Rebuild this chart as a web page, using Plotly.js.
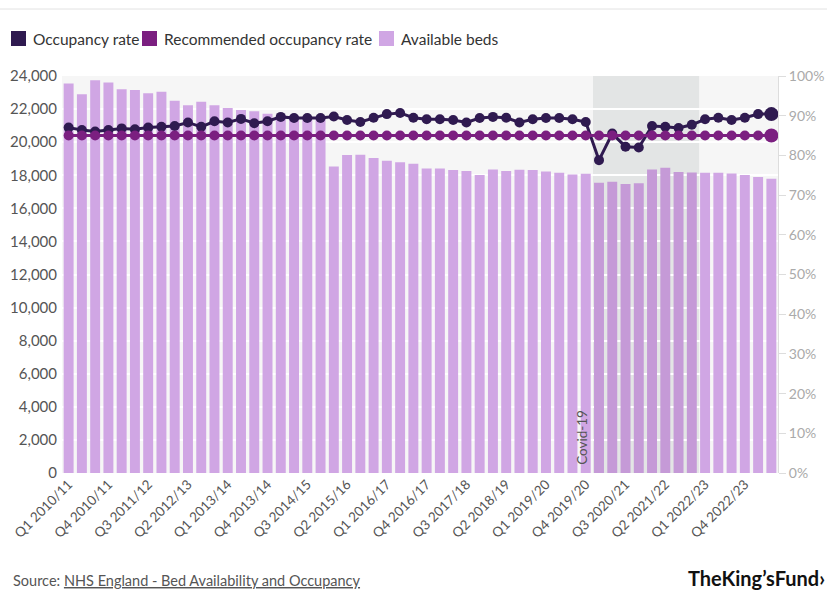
<!DOCTYPE html>
<html>
<head>
<meta charset="utf-8">
<script src="https://cdn.plot.ly/plotly-3.0.1.min.js"></script>
<style>
  html, body { margin: 0; padding: 0; background: #ffffff; }
  #chart { width: 827px; height: 590px; }
</style>
</head>
<body>
<div id="chart"></div>
<script>
// ---- Data ----
const quarters = [
  "Q1 2010/11","Q2 2010/11","Q3 2010/11","Q4 2010/11",
  "Q1 2011/12","Q2 2011/12","Q3 2011/12","Q4 2011/12",
  "Q1 2012/13","Q2 2012/13","Q3 2012/13","Q4 2012/13",
  "Q1 2013/14","Q2 2013/14","Q3 2013/14","Q4 2013/14",
  "Q1 2014/15","Q2 2014/15","Q3 2014/15","Q4 2014/15",
  "Q1 2015/16","Q2 2015/16","Q3 2015/16","Q4 2015/16",
  "Q1 2016/17","Q2 2016/17","Q3 2016/17","Q4 2016/17",
  "Q1 2017/18","Q2 2017/18","Q3 2017/18","Q4 2017/18",
  "Q1 2018/19","Q2 2018/19","Q3 2018/19","Q4 2018/19",
  "Q1 2019/20","Q2 2019/20","Q3 2019/20","Q4 2019/20",
  "Q1 2020/21","Q2 2020/21","Q3 2020/21","Q4 2020/21",
  "Q1 2021/22","Q2 2021/22","Q3 2021/22","Q4 2021/22",
  "Q1 2022/23","Q2 2022/23","Q3 2022/23","Q4 2022/23",
  "Q1 2023/24","Q2 2023/24"
];

const availableBeds = [
  23550, 22900, 23750, 23600, 23200, 23160, 22960, 23050,
  22500, 22230, 22450, 22230, 22070, 21950, 21870, 21720,
  21650, 21600, 21550, 21500, 18530, 19220, 19240, 19040,
  18870, 18780, 18700, 18410, 18410, 18310, 18250, 18010,
  18350, 18250, 18330, 18310, 18230, 18150, 18050, 18090,
  17550, 17610, 17470, 17510, 18350, 18450, 18190, 18170,
  18150, 18150, 18110, 18010, 17890, 17790
];

const occupancyRate = [
  87.0, 86.4, 86.0, 86.4, 86.8, 86.6, 87.0, 87.2,
  87.4, 88.3, 87.2, 88.6, 88.3, 89.2, 88.1, 88.6,
  89.7, 89.4, 89.4, 89.4, 89.8, 88.9, 88.4, 89.5,
  90.4, 90.7, 89.5, 89.1, 89.1, 88.9, 88.3, 89.4,
  89.7, 89.5, 88.3, 89.1, 89.4, 89.4, 89.1, 88.4,
  78.8, 85.5, 82.2, 82.0, 87.4, 87.2, 86.9, 87.7,
  89.1, 89.5, 88.9, 89.5, 90.4, 90.4
];

const recommendedRate = quarters.map(() => 85);

const tickLabels = [
  "Q1 2010/11","Q4 2010/11","Q3 2011/12","Q2 2012/13","Q1 2013/14",
  "Q4 2013/14","Q3 2014/15","Q2 2015/16","Q1 2016/17","Q4 2016/17",
  "Q3 2017/18","Q2 2018/19","Q1 2019/20","Q4 2019/20","Q3 2020/21",
  "Q2 2021/22","Q1 2022/23","Q4 2022/23"
];

const seriesNames = ["Occupancy rate", "Recommended occupancy rate", "Available beds"];

const covidStart = "Q1 2020/21";
const covidEnd = "Q4 2021/22";

// ---- Styles / geometry ----
const FONT = 'Lato, "Source Sans Pro", "Noto Sans", sans-serif';
const cOcc = '#2f1a50';
const cRec = '#7b1f80';
const cBeds = '#d0a6e4';
const cBedsCovid = '#c59ad7';
const W = 827, H = 590, ML = 62, MR = 49, MT = 76, MB = 117;
const PW = W - ML - MR, PH = H - MT - MB;
const px2x = px => (px - ML) / PW;
const px2y = py => (H - MB - py) / PH;

const iStart = quarters.indexOf(covidStart);
const iEnd = quarters.indexOf(covidEnd);
const barColors = quarters.map((q, i) => (i >= iStart && i <= iEnd) ? cBedsCovid : cBeds);
const n = quarters.length;
const markerSizes = quarters.map((q, i) => i === n - 1 ? 14 : 10);

const traces = [
  {
    type: 'bar', x: quarters, y: availableBeds, name: seriesNames[2],
    marker: { color: barColors, line: { width: 0 } }, showlegend: false, yaxis: 'y', hoverinfo: 'skip'
  },
  {
    type: 'scatter', mode: 'lines+markers', x: quarters, y: occupancyRate,
    name: seriesNames[0], yaxis: 'y2', showlegend: false,
    line: { color: cOcc, width: 3 },
    marker: { color: cOcc, size: markerSizes, opacity: 1, line: { width: 0 } }
  },
  {
    type: 'scatter', mode: 'lines+markers', x: quarters, y: recommendedRate,
    name: seriesNames[1], yaxis: 'y2', showlegend: false,
    line: { color: cRec, width: 3 },
    marker: { color: cRec, size: markerSizes, opacity: 1, line: { width: 0 } }
  }
];

// manual legend (swatch left edge px, text left edge px)
const legendItems = [
  { name: seriesNames[0], color: cOcc, sx: 11, tx: 31 },
  { name: seriesNames[1], color: cRec, sx: 142, tx: 162 },
  { name: seriesNames[2], color: cBeds, sx: 379, tx: 399 }
];
const legendY = 38.5;
const legendShapes = legendItems.map(it => ({
  type: 'rect', xref: 'paper', yref: 'paper', layer: 'above',
  x0: px2x(it.sx), x1: px2x(it.sx + 15), y0: px2y(legendY + 7.5), y1: px2y(legendY - 7.5),
  fillcolor: it.color, line: { width: 0 }
}));
const legendAnns = legendItems.map(it => ({
  text: it.name, xref: 'paper', yref: 'paper', x: px2x(it.tx), y: px2y(legendY),
  xanchor: 'left', yanchor: 'middle', showarrow: false,
  font: { family: FONT, size: 15.5, color: '#333333' }
}));

const layout = {
  width: W, height: H,
  margin: { l: ML, r: MR, t: MT, b: MB, pad: 0 },
  paper_bgcolor: '#ffffff',
  plot_bgcolor: '#f6f6f6',
  font: { family: FONT, size: 14, color: '#555555' },
  barmode: 'overlay',
  bargap: 0.25,
  showlegend: false,
  xaxis: {
    type: 'category',
    categoryorder: 'array', categoryarray: quarters,
    tickmode: 'array', tickvals: tickLabels, ticktext: tickLabels,
    tickangle: -45, ticks: '', showgrid: false, zeroline: false, showline: false,
    tickfont: { family: FONT, size: 13.5, color: '#555555' },
    range: [-0.5, n - 0.5], fixedrange: true
  },
  yaxis: {
    range: [0, 24000], tickmode: 'linear', tick0: 0, dtick: 2000,
    tickformat: ',d', showgrid: true, gridcolor: '#ffffff', gridwidth: 2,
    zeroline: false, showline: false, ticks: '',
    tickfont: { family: FONT, size: 15, color: '#555555' }, ticklabelstandoff: 4,
    fixedrange: true
  },
  yaxis2: {
    overlaying: 'y', side: 'right', range: [0, 100],
    tickmode: 'linear', tick0: 0, dtick: 10, ticksuffix: '%',
    showgrid: false, zeroline: false,
    showline: true, linecolor: '#dddddd', linewidth: 1,
    ticks: 'outside', ticklen: 7, tickcolor: '#dddddd', tickwidth: 1,
    tickfont: { family: FONT, size: 14, color: '#aaaaaa' },
    fixedrange: true
  },
  shapes: [
    {
      type: 'rect', xref: 'x', yref: 'paper', layer: 'below',
      x0: iStart - 0.45, x1: iEnd + 0.55, y0: 0, y1: 1,
      fillcolor: '#e3e5e5', line: { width: 0 }
    },
    {
      type: 'line', xref: 'paper', yref: 'paper',
      x0: px2x(0), x1: px2x(W), y0: px2y(9), y1: px2y(9),
      line: { color: '#e2e2e2', width: 1 }
    }
  ].concat(legendShapes),
  annotations: [
    {
      text: 'Covid-19', xref: 'x', yref: 'y', x: iStart - 1.3, y: 2170,
      textangle: -90, showarrow: false, xanchor: 'center', yanchor: 'middle',
      font: { family: FONT, size: 13.5, color: '#555555' }
    },
    {
      text: 'Source: <span style="text-decoration:underline">NHS England - Bed Availability and Occupancy</span>',
      xref: 'paper', yref: 'paper', x: px2x(11), y: px2y(580),
      xanchor: 'left', yanchor: 'middle', showarrow: false,
      font: { family: FONT, size: 14.5, color: '#555555' }
    },
    {
      text: '<b>TheKing\u2019sFund\u203A</b>',
      xref: 'paper', yref: 'paper', x: px2x(W), y: px2y(578),
      xanchor: 'right', yanchor: 'middle', showarrow: false,
      font: { family: FONT, size: 20, color: '#111111' }
    }
  ].concat(legendAnns)
};

Plotly.newPlot('chart', traces, layout, { displayModeBar: false, staticPlot: true });
</script>
</body>
</html>
